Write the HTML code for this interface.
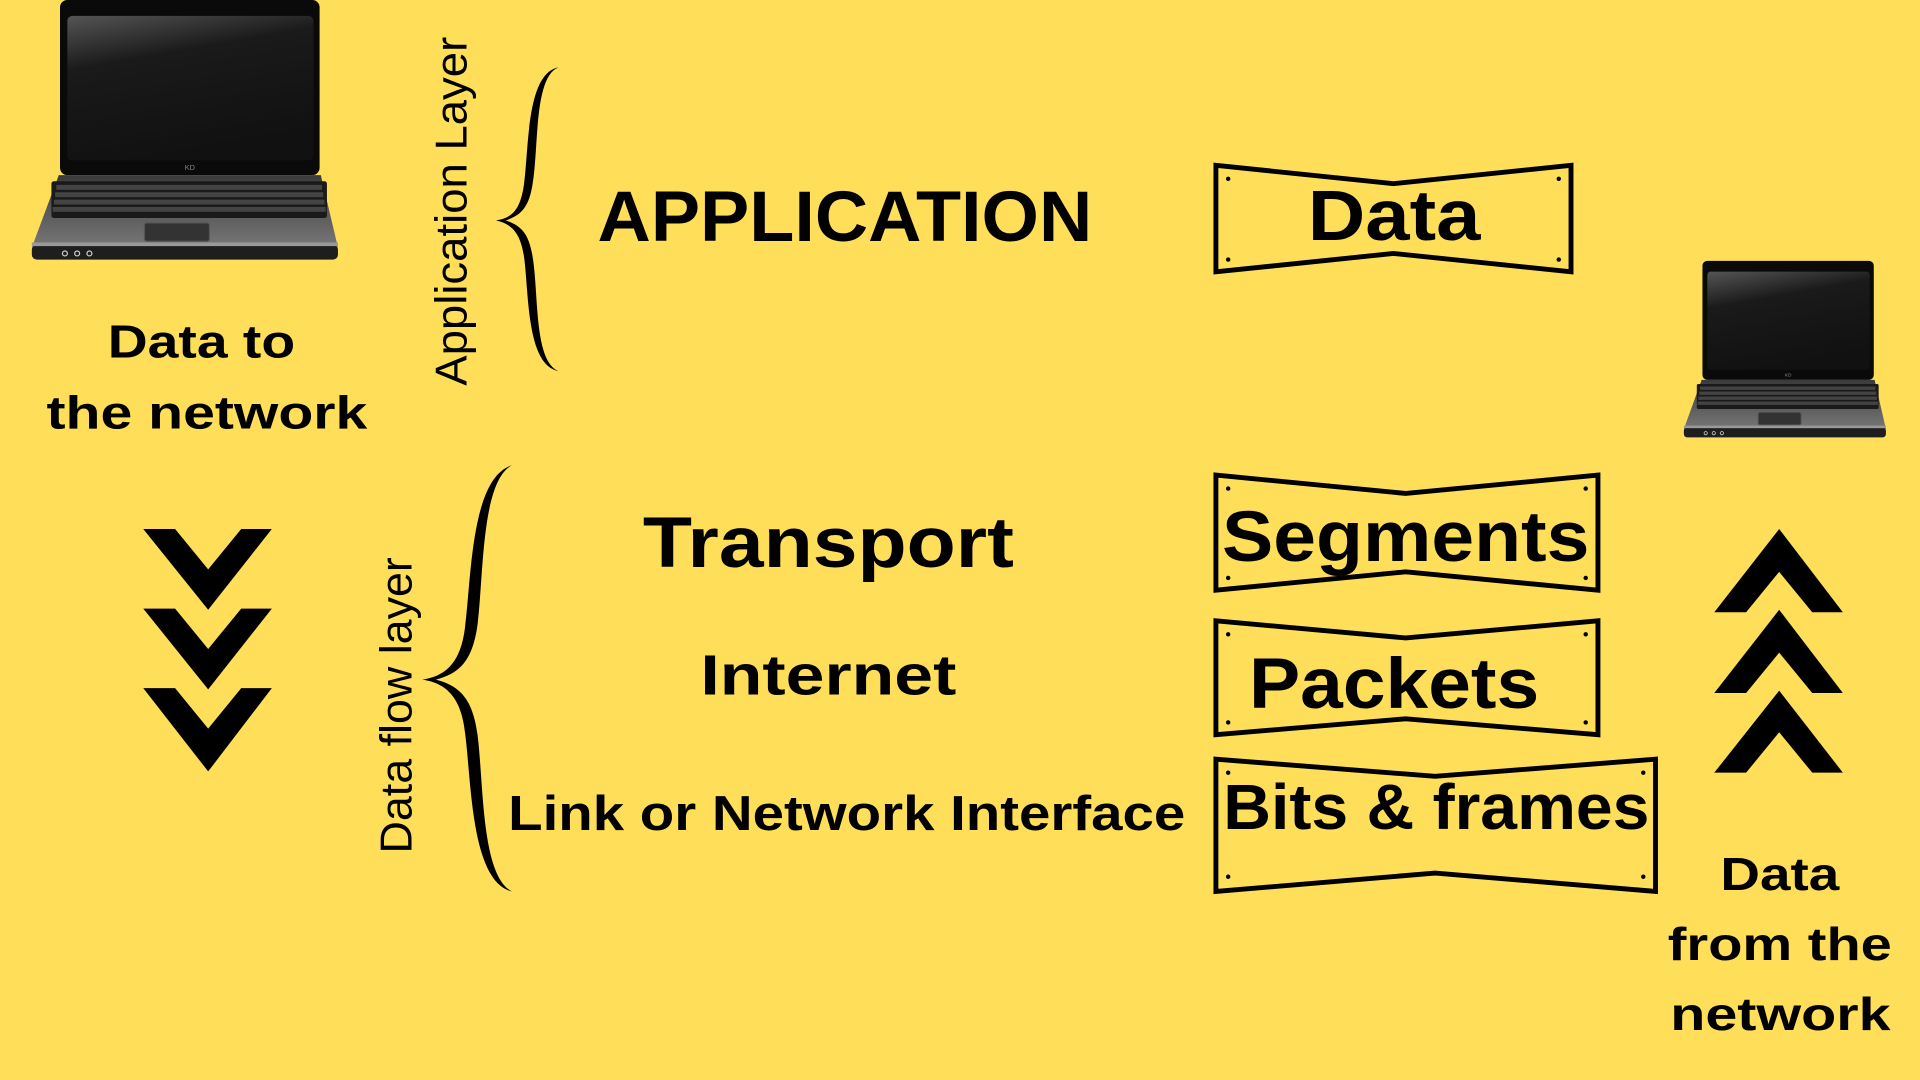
<!DOCTYPE html>
<html><head><meta charset="utf-8"><style>
html,body{margin:0;padding:0;background:#FFDE59;}
svg{display:block}
.b{font-family:"Liberation Sans",sans-serif;font-weight:bold;fill:#000}
</style></head><body>
<svg width="1920" height="1080" viewBox="0 0 1568 882" xmlns="http://www.w3.org/2000/svg">
<defs>
<linearGradient id="scr" x1="0" y1="0" x2="0.3" y2="1"><stop offset="0" stop-color="#555"/><stop offset="0.35" stop-color="#1a1a1a"/><stop offset="1" stop-color="#111"/></linearGradient>
<linearGradient id="base" x1="0" y1="0" x2="0" y2="1"><stop offset="0" stop-color="#3a3a3a"/><stop offset="1" stop-color="#777"/></linearGradient>
<g id="lap">
<rect x="49" y="0" width="212" height="143" rx="6" fill="#0a0a0a"/>
<rect x="55" y="13" width="201" height="118" rx="4" fill="url(#scr)"/>
<text x="155" y="139" font-family="Liberation Sans" font-size="6" fill="#888" text-anchor="middle">KD</text>
<path d="M48 143 L262 143 L276 202 L26 202 Z" fill="url(#base)"/>
<rect x="42" y="148" width="225" height="30" rx="2" fill="#1a1a1a"/>
<g fill="#444">
<rect x="46" y="151" width="217" height="4"/><rect x="45" y="157" width="219" height="4"/><rect x="44" y="163" width="221" height="4"/><rect x="43" y="169" width="223" height="4"/>
</g>
<rect x="118" y="182" width="53" height="15" rx="2" fill="#333" stroke="#555"/>
<rect x="26" y="200" width="250" height="12" rx="4" fill="#1e1e1e"/>
<rect x="26" y="198" width="250" height="3" fill="#999"/>
<circle cx="53" cy="207" r="2" fill="none" stroke="#ccc"/><circle cx="63" cy="207" r="2" fill="none" stroke="#ccc"/><circle cx="73" cy="207" r="2" fill="none" stroke="#ccc"/>
</g>
</defs>
<rect width="1568" height="882" fill="#FFDE59"/>
<use href="#lap"/>
<g transform="translate(1358,213) scale(0.66,0.68)"><use href="#lap"/></g>

<text class="b" x="88" y="292" font-size="38" textLength="153" lengthAdjust="spacingAndGlyphs">Data to</text>
<text class="b" x="38" y="350" font-size="38" textLength="262" lengthAdjust="spacingAndGlyphs">the network</text>

<text x="381" y="315" transform="rotate(-90 381 315)" font-family="Liberation Sans" font-size="36" fill="#000" textLength="285" lengthAdjust="spacingAndGlyphs">Application Layer</text>
<text x="336" y="697" transform="rotate(-90 336 697)" font-family="Liberation Sans" font-size="36" fill="#000" textLength="242" lengthAdjust="spacingAndGlyphs">Data flow layer</text>

<path d="M456 55 C430 60 432 120 428 150 C425 172 418 178 405 180 C418 183 425 190 428 210 C432 240 430 298 456 303 C436 295 440 240 435 210 C432 190 425 184 413 180 C425 176 432 170 435 150 C440 120 436 63 456 55 Z" fill="#000"/>
<path d="M418 380 C385 390 385 470 380 510 C377 540 365 552 345 555 C365 558 377 570 380 600 C385 640 385 720 418 728 C393 715 395 640 390 600 C386 570 375 560 356 555 C375 550 386 540 390 510 C395 470 393 393 418 380 Z" fill="#000"/>

<text class="b" x="488" y="197" font-size="58" textLength="404" lengthAdjust="spacingAndGlyphs">APPLICATION</text>
<text class="b" x="525" y="463" font-size="58" textLength="303" lengthAdjust="spacingAndGlyphs">Transport</text>
<text class="b" x="572" y="567" font-size="46" textLength="209" lengthAdjust="spacingAndGlyphs">Internet</text>
<text class="b" x="415" y="678" font-size="40" textLength="553" lengthAdjust="spacingAndGlyphs">Link or Network Interface</text>

<g fill="none" stroke="#000" stroke-width="4">
<polygon points="993,135 1138,150 1283,135 1283,222 1138,207 993,222"/>
<polygon points="993,388 1148,403 1305,388 1305,482 1148,467 993,482"/>
<polygon points="993,507 1148,521 1305,507 1305,600 1148,587 993,600"/>
<polygon points="993,620 1172,634 1352,620 1352,728 1172,713 993,728"/>
</g>
<g fill="#000">
<circle cx="1003" cy="146" r="1.8"/><circle cx="1273" cy="146" r="1.8"/><circle cx="1003" cy="212" r="1.8"/><circle cx="1273" cy="212" r="1.8"/>
<circle cx="1003" cy="399" r="1.8"/><circle cx="1295" cy="399" r="1.8"/><circle cx="1003" cy="472" r="1.8"/><circle cx="1295" cy="472" r="1.8"/>
<circle cx="1003" cy="518" r="1.8"/><circle cx="1295" cy="518" r="1.8"/><circle cx="1003" cy="590" r="1.8"/><circle cx="1295" cy="590" r="1.8"/>
<circle cx="1003" cy="631" r="1.8"/><circle cx="1342" cy="631" r="1.8"/><circle cx="1003" cy="716" r="1.8"/><circle cx="1342" cy="716" r="1.8"/>
</g>
<text class="b" x="1068" y="196" font-size="58" textLength="141" lengthAdjust="spacingAndGlyphs">Data</text>
<text class="b" x="998" y="458" font-size="58" textLength="300" lengthAdjust="spacingAndGlyphs">Segments</text>
<text class="b" x="1020" y="578" font-size="58" textLength="237" lengthAdjust="spacingAndGlyphs">Packets</text>
<text class="b" x="999" y="677" font-size="52" textLength="348" lengthAdjust="spacingAndGlyphs">Bits &amp; frames</text>

<g fill="#000">
<polygon points="117,432 143,432 170,465 197,432 222,432 170,498"/>
<polygon points="117,497 143,497 170,530 197,497 222,497 170,563"/>
<polygon points="117,562 143,562 170,595 197,562 222,562 170,630"/>
<polygon points="1400,500 1426,500 1453,467 1480,500 1505,500 1453,432"/>
<polygon points="1400,566 1426,566 1453,533 1480,566 1505,566 1453,498"/>
<polygon points="1400,631 1426,631 1453,598 1480,631 1505,631 1453,564"/>
</g>

<text class="b" x="1405" y="727" font-size="38" textLength="97" lengthAdjust="spacingAndGlyphs">Data</text>
<text class="b" x="1362" y="784" font-size="38" textLength="183" lengthAdjust="spacingAndGlyphs">from the</text>
<text class="b" x="1364" y="841" font-size="38" textLength="180" lengthAdjust="spacingAndGlyphs">network</text>
</svg>
</body></html>
